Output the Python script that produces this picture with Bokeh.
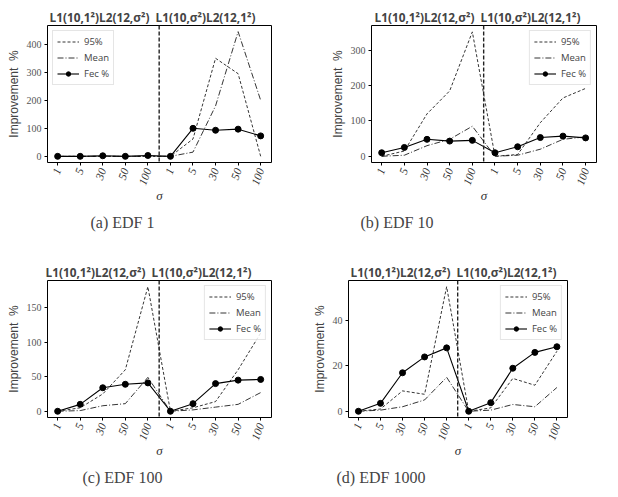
from bokeh.plotting import figure
from bokeh.layouts import column, row
from bokeh.models import Span, Title, Legend, LegendItem, FixedTicker, Range1d
from bokeh.embed import file_html
from bokeh.resources import INLINE

sigma_labels = ["1", "5", "30", "50", "100", "1", "5", "30", "50", "100"]
x_pos = list(range(10))
title_text = "L1(10,1²)L2(12,σ²)\u00a0\u00a0L1(10,σ²)L2(12,1²)"
y_label = "Improvement\u00a0\u00a0%"

edf1_p95 = [0, 0, 0, 0, 0, 0, 62, 350, 295, 0]
edf1_mean = [0, 0, 0, 0, 0, 0, 15, 180, 445, 200]
edf1_fec = [0, 0, 2, 0, 3, 0, 100, 93, 97, 73]

edf10_p95 = [0, 15, 120, 185, 352, 0, 5, 95, 165, 192]
edf10_mean = [0, 3, 30, 48, 85, 0, 3, 20, 48, 55]
edf10_fec = [10, 25, 48, 43, 45, 10, 27, 53, 57, 52]

edf100_p95 = [0, 5, 25, 60, 180, 0, 5, 14, 60, 113]
edf100_mean = [0, 1, 8, 11, 49, 0, 2, 6, 10, 27]
edf100_fec = [0, 10, 34, 39, 41, 0, 11, 40, 45, 46]

edf1000_p95 = [0, 1, 9, 7.5, 55, 0, 1.5, 14.5, 11.5, 26.5]
edf1000_mean = [0, 0.5, 2, 5, 15, 0, 0.5, 3, 2, 10.5]
edf1000_fec = [0, 3.5, 17, 24, 28, 0, 3.8, 19, 26, 28.5]

captions = ["(a) EDF 1", "(b) EDF 10", "(c) EDF 100", "(d) EDF 1000"]


def panel(p95, mean, fec, caption, yticks, yr, w, h, bl, br, bt, bb,
          legend_loc, title_off, cap_off):
    p = figure(width=w, height=h, output_backend="svg", toolbar_location=None,
               x_range=Range1d(-0.45, 9.48), y_range=Range1d(*yr),
               min_border_left=bl, min_border_right=br,
               min_border_top=bt, min_border_bottom=bb)
    p.title.text = title_text
    p.title.text_font = "Open Sans"
    p.title.text_font_style = "bold"
    p.title.text_font_size = "11.8px"
    p.title.align = "left"
    p.title.offset = title_off
    p.title.standoff = 1
    p.grid.visible = False
    p.outline_line_color = "black"
    p.outline_line_width = 1
    p.background_fill_color = "white"
    p.border_fill_color = "white"

    p.xaxis.ticker = FixedTicker(ticks=x_pos)
    p.xaxis.major_label_overrides = {i: s for i, s in zip(x_pos, sigma_labels)}
    p.xaxis.major_label_orientation = 1.22
    p.xaxis.major_label_text_font = "Liberation Serif"
    p.xaxis.major_label_text_font_style = "italic"
    p.xaxis.major_label_text_font_size = "11.5px"
    p.xaxis.major_label_text_color = "#333333"
    p.xaxis.axis_label = "σ"
    p.xaxis.axis_label_text_font = "Liberation Serif"
    p.xaxis.axis_label_text_font_style = "italic"
    p.xaxis.axis_label_text_font_size = "13px"
    p.xaxis.axis_label_text_color = "#333333"
    p.xaxis.axis_label_standoff = -2

    p.yaxis.ticker = FixedTicker(ticks=yticks)
    p.yaxis.major_label_text_font = "Liberation Serif"
    p.yaxis.major_label_text_font_size = "10px"
    p.yaxis.major_label_text_color = "#555555"
    p.yaxis.axis_label = y_label
    p.yaxis.axis_label_text_font = "Liberation Sans"
    p.yaxis.axis_label_text_font_style = "normal"
    p.yaxis.axis_label_text_font_size = "12px"
    p.yaxis.axis_label_standoff = 3

    for ax in (p.xaxis[0], p.yaxis[0]):
        ax.axis_line_color = None
        ax.minor_tick_line_color = None
        ax.major_tick_in = 0
        ax.major_tick_out = 3
        ax.major_tick_line_color = "black"
        ax.major_label_standoff = 3

    r95 = p.line(x_pos, p95, line_color="black", line_width=0.8, line_dash="3 2")
    rmean = p.line(x_pos, mean, line_color="black", line_width=0.8, line_dash="6 2 1 2")
    rfec = p.line(x_pos, fec, line_color="black", line_width=1.1)
    rfm = p.scatter(x_pos, fec, marker="circle", size=6, fill_color="black", line_color="black")

    p.add_layout(Span(location=4.5, dimension="height", line_color="#222222",
                      line_width=1.4, line_dash="4 2"))

    legend = Legend(items=[LegendItem(label="95%", renderers=[r95]),
                           LegendItem(label="Mean", renderers=[rmean]),
                           LegendItem(label="Fec %", renderers=[rfec, rfm])],
                    location=legend_loc)
    legend.label_text_font = "Open Sans"
    legend.label_text_font_size = "9.5px"
    legend.label_height = 11
    legend.glyph_height = 11
    legend.glyph_width = 22
    legend.spacing = 3
    legend.padding = 4
    legend.margin = 5
    legend.border_line_color = "#cccccc"
    legend.background_fill_alpha = 0.85
    p.add_layout(legend)

    cap = Title(text=caption, align="left", offset=cap_off,
                text_font="Liberation Serif", text_font_size="16px",
                text_font_style="normal", standoff=11)
    p.add_layout(cap, "below")
    return p


p1 = panel(edf1_p95, edf1_mean, edf1_fec, captions[0], [0, 100, 200, 300, 400],
           (-22, 467), 309, 250, 47, 38, 25, 88, "top_left", 2, 43)
p2 = panel(edf10_p95, edf10_mean, edf10_fec, captions[1], [0, 100, 200, 300],
           (-17.6, 370), 309, 250, 62, 22, 25, 88, "top_right", 3, -11)
p3 = panel(edf100_p95, edf100_mean, edf100_fec, captions[2], [0, 50, 100, 150],
           (-9, 189), 309, 247, 47, 38, 30, 80, "top_right", -2, 35)
p4 = panel(edf1000_p95, edf1000_mean, edf1000_fec, captions[3], [0, 20, 40],
           (-2.75, 57.75), 309, 247, 30, 51, 27, 80, "top_right", 2, -12)

layout = column(row(p1, p2), row(p3, p4))
open("out.html", "w").write(file_html(layout, INLINE))
